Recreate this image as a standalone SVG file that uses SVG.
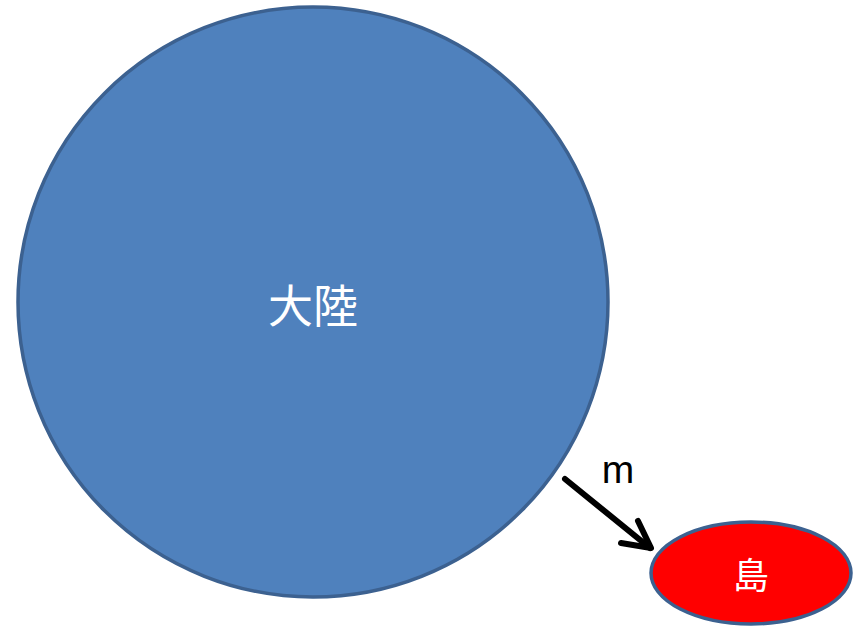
<svg xmlns="http://www.w3.org/2000/svg" width="854" height="628" viewBox="0 0 854 628">
<style>
.node{stroke:#3c6190;stroke-width:3.5}
.lbl{font-family:"Liberation Sans","Noto Sans CJK JP",sans-serif;fill:#fff;text-anchor:middle}
.conn{stroke:#000;stroke-width:6;fill:none;stroke-linecap:round;stroke-linejoin:round}
</style>
<rect width="854" height="628" fill="#fff"/>
<g id="mainland">
<circle class="node" cx="313" cy="302" r="295" fill="#4f81bd"/>
<text class="lbl" x="313" y="323" font-size="45">大陸</text>
</g>
<g id="island">
<ellipse class="node" cx="751" cy="573" rx="100" ry="51" fill="#ff0000"/>
<text class="lbl" x="751" y="589" font-size="36">島</text>
</g>
<g id="connectors">
<path class="conn" d="M565,479 L650,548"/>
<path class="conn" d="M638,521 L651,548 L621,543"/>
<text x="618" y="483" font-family="Liberation Sans, sans-serif" font-size="39" text-anchor="middle" fill="#000">m</text>
</g>
</svg>
